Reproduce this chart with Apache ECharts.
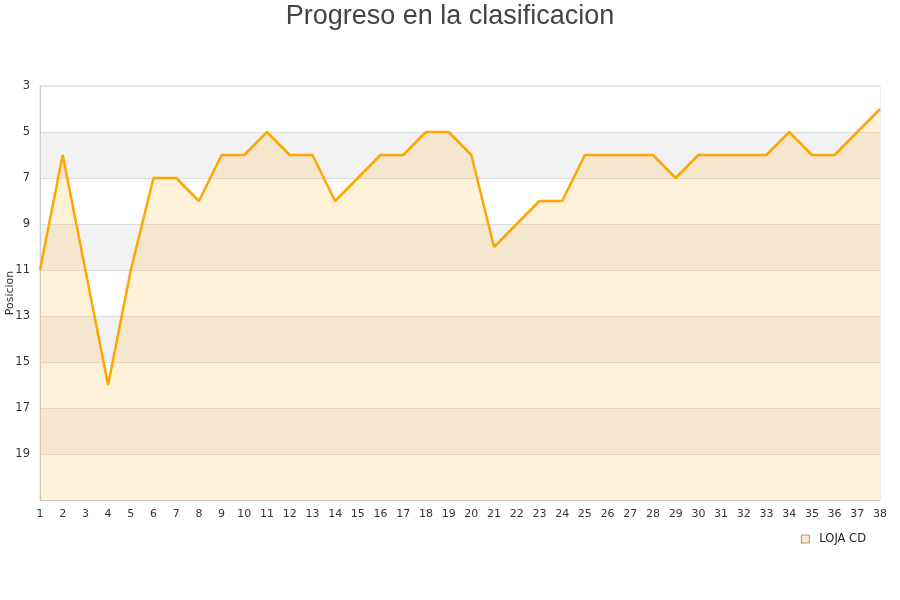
<!DOCTYPE html>
<html><head><meta charset="utf-8">
<script src="https://cdn.jsdelivr.net/npm/echarts@6/dist/echarts.min.js"></script>
<style>html,body{margin:0;padding:0;background:#fff}#c{width:900px;height:600px}</style>
</head><body><div id="c"></div>
<script>
const jornadas = ['1','2','3','4','5','6','7','8','9','10','11','12','13','14','15','16','17','18','19','20','21','22','23','24','25','26','27','28','29','30','31','32','33','34','35','36','37','38'];
const posiciones = [11,6,11,16,11,7,7,8,6,6,5,6,6,8,7,6,6,5,5,6,10,9,8,8,6,6,6,6,7,6,6,6,6,5,6,6,5,4];
const yTicks = [3,5,7,9,11,13,15,17,19];
const chart = echarts.init(document.getElementById('c'));
chart.setOption({
  animation:false,
  title:{text:'Progreso en la clasificacion',left:'center',top:-2,textStyle:{fontFamily:'Liberation Sans',fontSize:27,fontWeight:'normal',color:'#444'}},
  grid:{left:40,right:20,top:86,bottom:100,containLabel:false,outerBoundsMode:'none',show:true,borderColor:'#ddd',borderWidth:1},
  legend:{right:29,bottom:50,icon:'rect',itemWidth:8,itemHeight:8,itemGap:10,textStyle:{fontFamily:'DejaVu Sans',fontSize:11.5,color:'#222',padding:[0,0,0,5]},
    data:[{name:'LOJA CD',itemStyle:{color:'#fde9c4',borderColor:'#999',borderWidth:1}}]},
  xAxis:{type:'category',data:jornadas,boundaryGap:false,
    axisLine:{lineStyle:{color:'#ccc'}},axisTick:{show:false},
    axisLabel:{fontFamily:'DejaVu Sans',fontSize:11,color:'#333',margin:9,interval:0},splitLine:{show:false}},
  yAxis:{type:'value',inverse:true,min:3,max:21,interval:2,name:'Posicion',nameLocation:'middle',nameGap:24,nameMoveOverlap:false,
    nameTextStyle:{fontFamily:'DejaVu Sans',fontSize:11,color:'#333'},
    axisLine:{show:true,lineStyle:{color:'#ccc'}},axisTick:{show:false},
    axisLabel:{fontFamily:'DejaVu Sans',fontSize:11.5,color:'#333',margin:10,formatter:v=>yTicks.includes(v)?String(v):''},
    splitLine:{show:true,lineStyle:{color:'#ddd'}},
    splitArea:{show:true,areaStyle:{color:['#ffffff','#f2f2f2']}}},
  series:[{name:'LOJA CD',type:'line',data:posiciones,symbol:'none',
    lineStyle:{color:'#FFA500',width:2.5},itemStyle:{color:'#FFA500'},
    areaStyle:{color:'rgba(255,165,0,0.21)',origin:'end'}}]
});
</script></body></html>
